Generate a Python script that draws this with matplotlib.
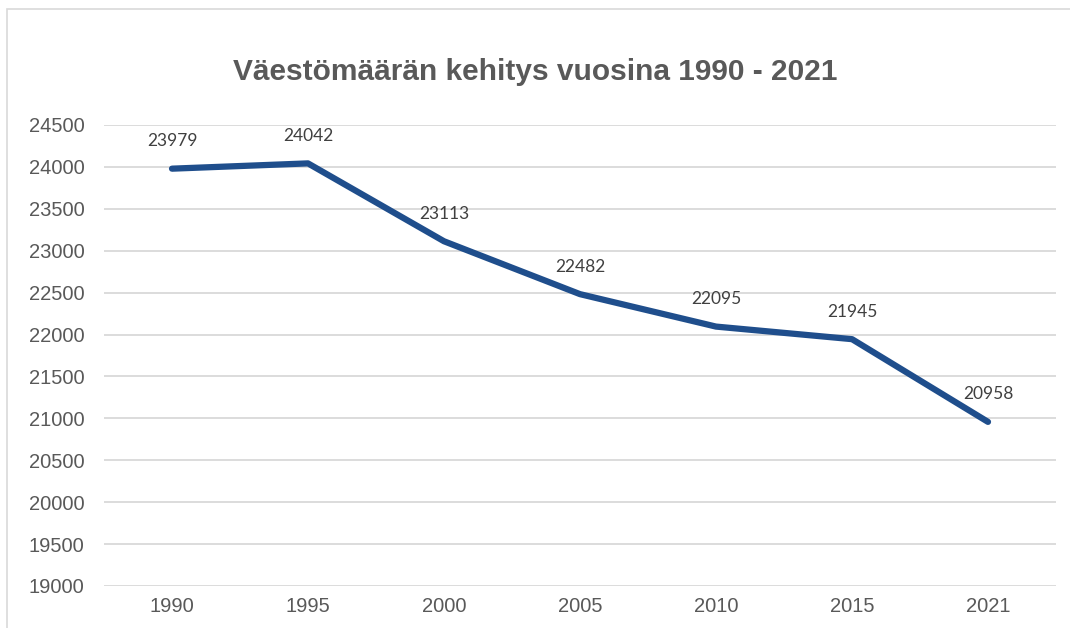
import matplotlib.pyplot as plt
from matplotlib.patches import Rectangle

years = ["1990", "1995", "2000", "2005", "2010", "2015", "2021"]
population = [23979, 24042, 23113, 22482, 22095, 21945, 20958]
y_ticks = list(range(19000, 24501, 500))

fig = plt.figure(figsize=(10.7, 6.28), dpi=100)
fig.patch.set_facecolor("white")

# thin frame of the chart area (top and left edges visible)
fig.patches.append(Rectangle((7 / 1070, -0.1), 1.2, 1 - 9 / 628 + 0.1,
                             transform=fig.transFigure, fill=False,
                             edgecolor="#d9d9d9", linewidth=1.2))

ax = fig.add_axes([104 / 1070, 1 - 586 / 628, (1056 - 104) / 1070, (586 - 125) / 628])
x = range(len(years))
ax.plot(x, population, color="#1f4e8c", linewidth=4.5, solid_capstyle="round",
        solid_joinstyle="round")

for xi, v in zip(x, population):
    ax.annotate(str(v), (xi, v), xytext=(0, 14), textcoords="offset points",
                ha="center", va="bottom", fontsize=12.5, color="#404040",
                family="Lato")

ax.set_xlim(-0.5, len(years) - 0.5)
ax.set_ylim(19000, 24500)
ax.set_yticks(y_ticks)
ax.set_xticks(list(x))
ax.set_xticklabels(years)
ax.yaxis.grid(True, color="#d9d9d9", linewidth=1.3)
ax.set_axisbelow(True)
for s in ax.spines.values():
    s.set_visible(False)
ax.tick_params(length=0, labelsize=14.5, labelcolor="#595959")
ax.tick_params(axis="y", pad=14)
ax.tick_params(axis="x", pad=8)
for lbl in ax.get_xticklabels() + ax.get_yticklabels():
    lbl.set_family("Liberation Sans")

fig.text(0.5, 1 - 72 / 628, "Väestömäärän kehitys vuosina 1990 - 2021",
         ha="center", va="center", fontsize=21.5, fontweight="bold",
         color="#595959", family="Liberation Sans")

fig.savefig("out.png", dpi=100)
